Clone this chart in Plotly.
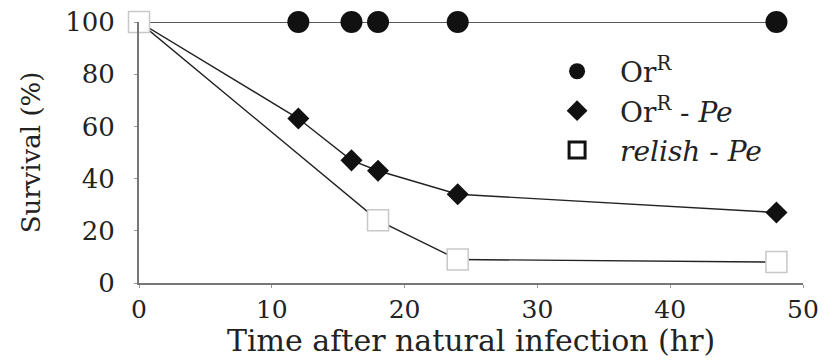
import plotly.graph_objects as go

# Data
time_orR = [0, 12, 16, 18, 24, 48]
surv_orR = [100, 100, 100, 100, 100, 100]

time_orR_pe = [0, 12, 16, 18, 24, 48]
surv_orR_pe = [100, 63, 47, 43, 34, 27]

time_relish_pe = [0, 18, 24, 48]
surv_relish_pe = [100, 24, 9, 8]

x_ticks = [0, 10, 20, 30, 40, 50]
y_ticks = [0, 20, 40, 60, 80, 100]

x_title = "Time after natural infection (hr)"
y_title = "Survival (%)"

FONT = "DejaVu Serif"
fig = go.Figure()

line_style = dict(color="#222", width=1.4)

fig.add_trace(go.Scatter(
    x=time_orR, y=surv_orR, mode="lines+markers", showlegend=False,
    line=line_style, marker=dict(symbol="circle", size=22, color="#111"),
    cliponaxis=False))
fig.add_trace(go.Scatter(
    x=time_orR_pe, y=surv_orR_pe, mode="lines+markers", showlegend=False,
    line=line_style, marker=dict(symbol="diamond", size=17, color="#111"),
    cliponaxis=False))
fig.add_trace(go.Scatter(
    x=time_relish_pe, y=surv_relish_pe, mode="lines+markers", showlegend=False,
    line=line_style,
    marker=dict(symbol="square", size=21, color="white",
                line=dict(color="#c8c8c8", width=1.5)),
    cliponaxis=False))

# legend entries
fig.add_trace(go.Scatter(x=[None], y=[None], mode="markers", name="Or<sup>R</sup>",
                         marker=dict(symbol="circle", size=22, color="#111")))
fig.add_trace(go.Scatter(x=[None], y=[None], mode="markers", name="Or<sup>R</sup> - <i>Pe</i>",
                         marker=dict(symbol="diamond", size=22, color="#111")))
fig.add_trace(go.Scatter(x=[None], y=[None], mode="markers", name="<i>relish</i> - <i>Pe</i>",
                         marker=dict(symbol="square", size=18, color="white",
                                     line=dict(color="#111", width=3))))

fig.update_layout(
    width=824, height=362,
    margin=dict(l=139, r=21, t=22, b=79, autoexpand=False),
    paper_bgcolor="white", plot_bgcolor="white",
    font=dict(family=FONT, color="#222", size=24),
    showlegend=True,
    legend=dict(x=0.595, y=0.906, xanchor="left", yanchor="top",
                bgcolor="rgba(0,0,0,0)", font=dict(size=28, family=FONT, color="#222"),
                itemsizing="trace", itemwidth=76, tracegroupgap=0),
    xaxis=dict(range=[0, 50], tickvals=x_ticks, showline=True, linecolor="#777",
               linewidth=2, ticks="outside", ticklen=3, tickcolor="#999",
               showgrid=False, zeroline=False, automargin=False,
               tickfont=dict(size=25, family=FONT, color="#222")),
    yaxis=dict(range=[0, 100], tickvals=y_ticks, showline=True, linecolor="#777",
               linewidth=2, ticks="outside", ticklen=3, tickcolor="#999",
               showgrid=False, zeroline=False, ticklabelstandoff=14, automargin=False,
               tickfont=dict(size=26, family=FONT, color="#222"),
               title=dict(text=y_title,
                          font=dict(size=26, family=FONT, color="#222"), standoff=17)),
    annotations=[dict(text=x_title, xref="paper", yref="paper", x=0.5, y=-0.222,
                      xanchor="center", yanchor="middle", showarrow=False,
                      font=dict(size=30, family=FONT, color="#222"))],
)

fig.write_html("out.html", config={"displayModeBar": False},
               post_script="document.body.style.margin='0';")
